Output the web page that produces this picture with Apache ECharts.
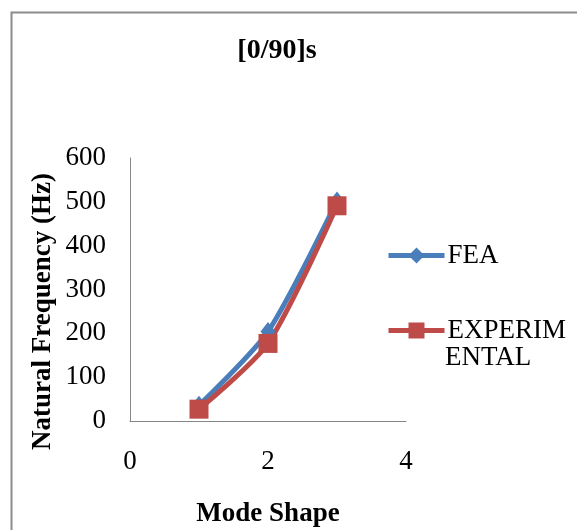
<!DOCTYPE html>
<html><head><meta charset="utf-8">
<script src="https://cdn.jsdelivr.net/npm/echarts@6/dist/echarts.min.js"></script>
<style>html,body{margin:0;padding:0;background:#fff}#c{width:577px;height:530px}</style>
</head><body><div id="c"></div>
<script>
const modes = [1, 2, 3];
const feaValues = [36, 204, 502];
const expValues = [27, 177, 491];
const xTicks = [0, 2, 4];
const yTicks = [0, 100, 200, 300, 400, 500, 600];
const seriesNames = ['FEA', 'EXPERIMENTAL'];

const font = '"Liberation Serif", "Times New Roman", serif';
const chart = echarts.init(document.getElementById('c'));
chart.setOption({
  backgroundColor: '#fff',
  animation: false,
  graphic: [
    {
      type: 'rect', shape: {x: 11.5, y: 12.5, width: 600, height: 560},
      style: {fill: 'none', stroke: '#8c8c8c', lineWidth: 2}
    },
    {
      type: 'text', left: 445, top: 344,
      style: {text: 'ENTAL', font: '27px ' + font, fill: '#000'}
    }
  ],
  title: {
    text: '[0/90]s', left: 272, top: 32, textAlign: 'center',
    textStyle: {fontFamily: font, fontWeight: 'bold', fontSize: 28, color: '#000'}
  },
  legend: {
    orient: 'vertical', left: 381, top: 236, itemGap: 46,
    itemWidth: 56, itemHeight: 20,
    data: seriesNames,
    lineStyle: {width: 5},
    formatter: n => n === 'EXPERIMENTAL' ? 'EXPERIM' : n,
    textStyle: {fontFamily: font, fontSize: 27, color: '#000', lineHeight: 29, padding: [0, 0, 0, -2]}
  },
  grid: {left: 130, top: 158, right: 171, bottom: 109, containLabel: false},
  xAxis: {
    type: 'value', min: xTicks[0], max: xTicks[xTicks.length - 1], interval: 2,
    name: 'Mode Shape', nameLocation: 'middle', nameGap: 80,
    nameTextStyle: {fontFamily: font, fontWeight: 'bold', fontSize: 27, color: '#000'},
    axisLine: {lineStyle: {color: '#868686', width: 1}},
    axisTick: {show: false}, splitLine: {show: false},
    axisLabel: {fontFamily: font, fontSize: 27, color: '#000', margin: 27}
  },
  yAxis: {
    type: 'value', min: yTicks[0], max: yTicks[yTicks.length - 1], interval: 100,
    name: 'Natural Frequency (Hz)', nameLocation: 'middle', nameGap: 73,
    nameTextStyle: {fontFamily: font, fontWeight: 'bold', fontSize: 27, color: '#000', padding: [0, 44, 0, 0]},
    axisLine: {show: true, lineStyle: {color: '#868686', width: 1}},
    axisTick: {show: false}, splitLine: {show: false},
    axisLabel: {fontFamily: font, fontSize: 27, color: '#000', margin: 24}
  },
  series: [
    {
      name: seriesNames[0], type: 'line', smooth: 0.25,
      data: modes.map((m, i) => [m, feaValues[i]]),
      symbol: 'diamond', symbolSize: [15, 19],
      lineStyle: {color: '#4A7EBB', width: 5},
      itemStyle: {color: '#4A7EBB'}
    },
    {
      name: seriesNames[1], type: 'line', smooth: 0.25,
      data: modes.map((m, i) => [m, expValues[i]]),
      symbol: 'rect', symbolSize: 19,
      lineStyle: {color: '#BE4B48', width: 5},
      itemStyle: {color: '#BE4B48'}
    }
  ]
});
</script></body></html>
